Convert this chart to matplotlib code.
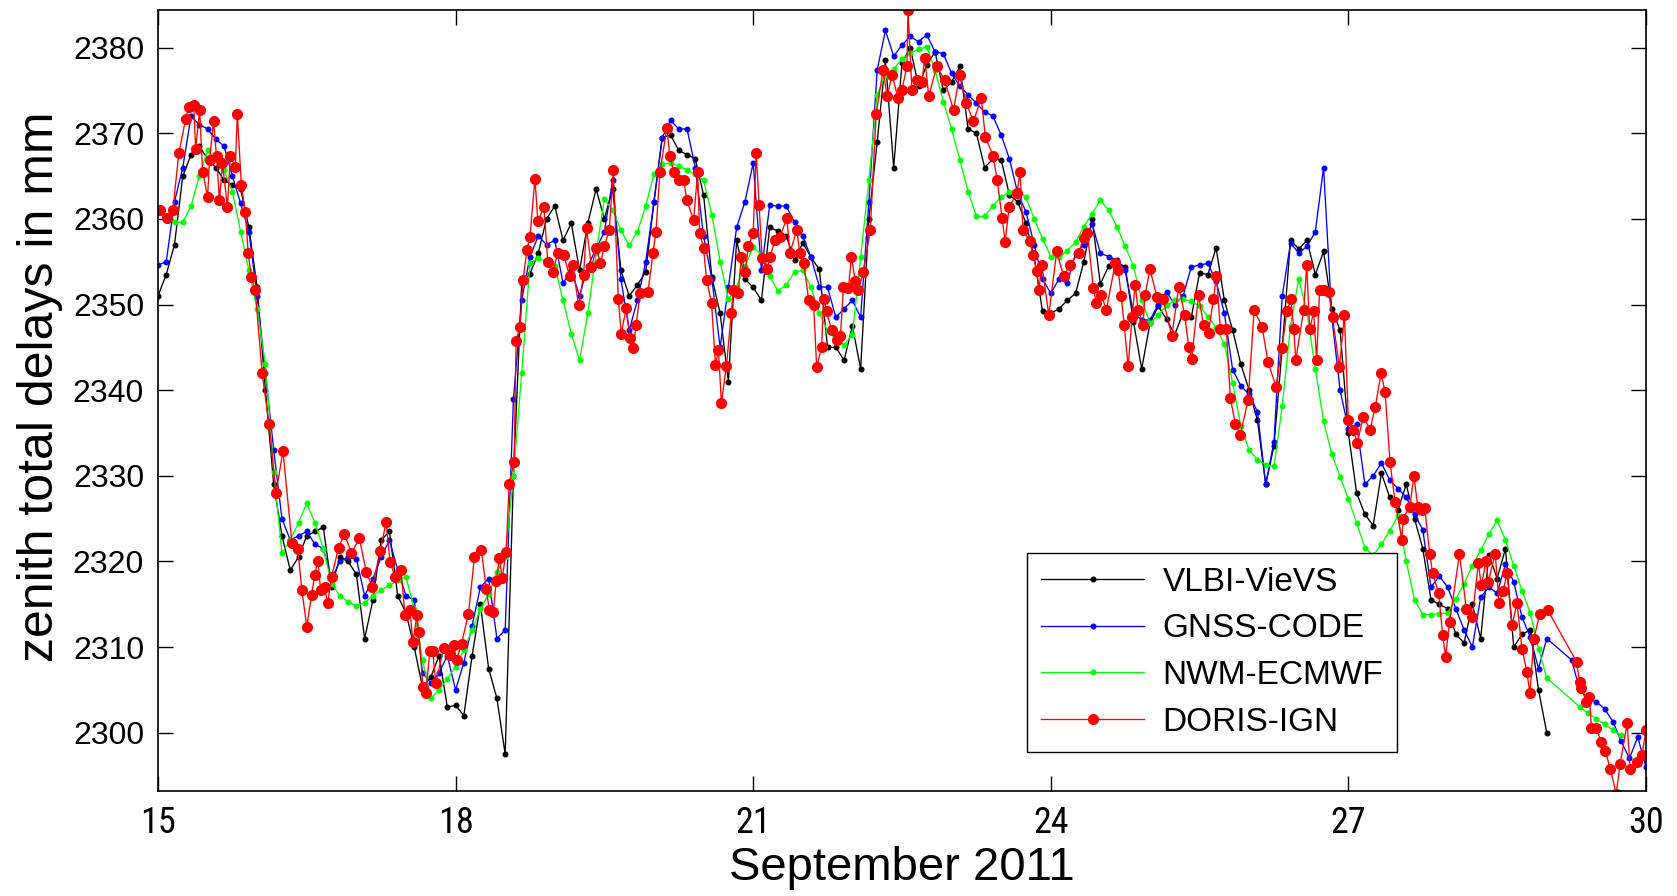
import numpy as np
import matplotlib
matplotlib.use('Agg')
import matplotlib.pyplot as plt
from matplotlib import font_manager

# 2-hourly epochs, 15.0 .. 30.0 September 2011
t2h = 15 + np.arange(181) / 12.0

nan = np.nan

# VLBI-VieVS zenith total delays [mm], one row per day
vlbi = [
    2351, 2353.5, 2357, 2365, 2367.5, 2368.5, 2367, 2366, 2364.5, 2364, 2363.5, 2359,
    2352, 2340, 2329, 2323, 2319, 2320.5, 2323, 2323.5, 2324, 2317, 2320.5, 2320,
    2318.5, 2311, 2315.5, 2322.5, 2323.5, 2316, 2314, 2310, 2305.3, 2306.5, 2309, 2303,
    2303.2, 2302, 2309, 2315, 2307.5, 2304, 2297.5, 2330, 2352.5, 2353.6, 2356, 2360,
    2361.5, 2357.5, 2359.5, 2354, 2359.5, 2363.5, 2360, 2363.5, 2354, 2351, 2352.3, 2353.8,
    2362, 2369.5, 2369.8, 2368, 2367.5, 2367, 2362.8, 2353.2, 2349, 2341, 2357.5, 2353,
    2352, 2350.5, 2359, 2358.6, 2358, 2355.2, 2357.2, 2355.5, 2354.1, 2345, 2345, 2343.5,
    2347.5, 2342.5, 2360, 2369, 2378.5, 2366, 2378.2, 2380, 2375.5, 2378, 2379.5, 2375,
    2376, 2377.8, 2370.5, 2370, 2366, 2367, 2366.9, 2362.8, 2362, 2359.5, 2355.5, 2349.2,
    2349, 2349.5, 2350.5, 2351.3, 2355, 2360, 2352.4, 2354.5, 2355, 2354.4, 2348, 2342.5,
    2347.8, 2349.8, 2348.3, 2346.5, 2349, 2348.5, 2353.7, 2353.5, 2356.6, 2350.5, 2347, 2343,
    2340, 2336.5, 2329, 2333.5, 2345, 2357.5, 2356.5, 2357.5, 2353.5, 2356.2, 2349.5, 2347,
    2335, 2328, 2325.5, 2324.2, 2330.3, 2327.5, 2326, 2329, 2325, 2321.5, 2315.5, 2315,
    2314.5, 2311.5, 2310.5, 2315, 2311, 2320.8, 2318, 2321.5, 2310, 2311.5, 2312, 2305,
    2300, nan, nan, nan, nan, nan, nan, nan, nan, nan, nan, nan,
    nan,
]

# GNSS-CODE
gnss = [
    2354.6, 2355, 2362, 2366, 2372, 2371, 2370.5, 2369.3, 2368.5, 2365, 2361.8, 2358.5,
    2351, 2342, 2333, 2325, 2322.5, 2323, 2323.5, 2322, 2321.5, 2318, 2320, 2320.5,
    2320.3, 2316, 2318, 2320.5, 2322.5, 2319, 2316, 2315.5, 2307, 2305.8, 2307, 2309,
    2305, 2308.2, 2312.5, 2317, 2318, 2311, 2312, 2339, 2350.5, 2355.6, 2358, 2357,
    2357.5, 2352.5, 2354, 2351, 2354.5, 2356.5, 2358.5, 2364.5, 2353, 2347, 2350.5, 2355,
    2362, 2369.5, 2371.5, 2370.5, 2370.5, 2366, 2358, 2353, 2345, 2352, 2359, 2362,
    2366.5, 2354, 2361.6, 2361.5, 2361.5, 2359.6, 2358, 2355.5, 2352.1, 2352, 2348.5, 2349.5,
    2350.5, 2348.5, 2362, 2377.4, 2382, 2379, 2380.3, 2381.3, 2380.7, 2381.5, 2379.5, 2379.3,
    2377, 2375.5, 2374.5, 2373.5, 2372.5, 2372, 2369.8, 2367, 2363, 2360.8, 2357, 2353,
    2351.3, 2353, 2352.5, 2356, 2357, 2359.4, 2356, 2355.6, 2355.2, 2354, 2349, 2348.2,
    2348.2, 2350, 2351.5, 2350, 2351, 2354.4, 2354.6, 2354.8, 2352.7, 2349, 2342.4, 2340.5,
    2339.5, 2337.5, 2329, 2334, 2351, 2357.2, 2356, 2356.8, 2358.5, 2366, 2348.5, 2340,
    2335.5, 2336, 2329, 2330, 2331.5, 2329.5, 2328.5, 2327.5, 2325.5, 2323.7, 2317, 2318.3,
    2317, 2314.5, 2312, 2310, 2315.8, 2317, 2316.3, 2319.7, 2317.6, 2313.5, 2311.2, 2307.5,
    2311, nan, nan, 2308.5, 2305, 2304, 2303.6, 2302.8, 2301.3, 2299, 2297, 2299.5,
    2296,
]

# NWM-ECMWF
nwm = [
    2360.7, 2360, 2359.6, 2359.6, 2361.5, 2365, 2368, 2367, 2365.7, 2363.2, 2358.5, 2354,
    2349.5, 2343, 2330.5, 2321, 2322.5, 2324.5, 2326.8, 2324.5, 2321.5, 2317.4, 2316, 2315.3,
    2314.8, 2315.2, 2316, 2316.7, 2317.2, 2317.8, 2318.2, 2314.5, 2308.5, 2304, 2305, 2306.3,
    2307.7, 2309.7, 2312, 2314.4, 2316.2, 2318.8, 2320.5, 2330, 2342, 2354.8, 2355.4, 2355,
    2354.5, 2350.5, 2346.6, 2343.5, 2349, 2356, 2362.3, 2361, 2358.7, 2356.9, 2358.5, 2361.5,
    2365.3, 2366.4, 2366.5, 2366.2, 2365.7, 2365.2, 2364.5, 2360.5, 2355, 2350.6, 2352.1, 2354.5,
    2356.7, 2355.8, 2353.3, 2351.6, 2352.3, 2353.8, 2354, 2352, 2349, 2346.9, 2346, 2345.3,
    2346.5, 2355.5, 2364.5, 2374.5, 2376.8, 2377.5, 2378.7, 2379.4, 2379.8, 2380.1, 2377.4, 2373.7,
    2370.5, 2366.9, 2363.2, 2360.3, 2360.3, 2361.5, 2362.6, 2363.1, 2363.4, 2362.5, 2360, 2357.7,
    2355.6, 2355.5, 2356.3, 2357.3, 2359.1, 2360.6, 2362.2, 2361, 2359.1, 2356.8, 2354.5, 2350.5,
    2347.8, 2348.8, 2349.9, 2350.5, 2350.6, 2350.4, 2349.8, 2348.6, 2347.3, 2345.4, 2340.8, 2335.8,
    2333, 2331.9, 2331.3, 2331.1, 2338.1, 2347.5, 2353, 2349, 2342.5, 2336.4, 2332.5, 2329.9,
    2327.3, 2324.5, 2321.6, 2320.7, 2322, 2323.6, 2325.3, 2320, 2315.5, 2313.8, 2313.8, 2313.9,
    2314, 2315.6, 2317.4, 2319.5, 2321.3, 2323.2, 2324.8, 2322.5, 2319.5, 2316.6, 2314, 2309.8,
    2306.4, nan, nan, nan, 2303, 2302.3, 2301.6, 2301, 2300.3, 2299.7, nan, nan,
    nan,
]

# DORIS-IGN, irregular epochs
doris_t = [
    15.02, 15.09, 15.15, 15.21, 15.28, 15.31, 15.36, 15.38, 15.42, 15.45, 15.50, 15.52, 15.56,
    15.59, 15.62, 15.65, 15.70, 15.73, 15.78, 15.80, 15.84, 15.88, 15.91, 15.94, 15.98,
    16.05, 16.12, 16.19, 16.26, 16.35, 16.41, 16.45, 16.50, 16.55, 16.58, 16.61, 16.64,
    16.68, 16.71, 16.75, 16.82, 16.88, 16.95, 17.03, 17.10, 17.16, 17.24, 17.30, 17.34,
    17.39, 17.45, 17.49, 17.54, 17.57, 17.61, 17.63, 17.67, 17.70, 17.74, 17.77, 17.80,
    17.88, 17.94, 17.98, 18.01, 18.06, 18.13, 18.19, 18.26, 18.31, 18.34, 18.38, 18.41,
    18.44, 18.47, 18.51, 18.54, 18.59, 18.61, 18.65, 18.68, 18.72, 18.75, 18.80, 18.83,
    18.89, 18.93, 18.98, 19.03, 19.09, 19.15, 19.18, 19.24, 19.29, 19.32, 19.37, 19.42,
    19.46, 19.50, 19.55, 19.59, 19.64, 19.67, 19.72, 19.76, 19.79, 19.82, 19.86, 19.94,
    19.99, 20.02, 20.06, 20.13, 20.16, 20.20, 20.25, 20.30, 20.33, 20.40, 20.44, 20.46,
    20.50, 20.53, 20.58, 20.62, 20.65, 20.68, 20.73, 20.78, 20.80, 20.85, 20.88, 20.92,
    20.95, 21.00, 21.03, 21.06, 21.09, 21.14, 21.17, 21.22, 21.27, 21.34, 21.37, 21.44,
    21.47, 21.51, 21.56, 21.61, 21.64, 21.69, 21.71, 21.74, 21.79, 21.84, 21.88, 21.91,
    21.96, 21.99, 22.03, 22.06, 22.11, 22.18, 22.24, 22.31, 22.35, 22.40, 22.46, 22.50,
    22.55, 22.56, 22.60, 22.65, 22.70, 22.73, 22.77, 22.85, 22.93, 23.02, 23.08, 23.15,
    23.22, 23.30, 23.34, 23.42, 23.46, 23.51, 23.54, 23.58, 23.66, 23.69, 23.72, 23.79,
    23.82, 23.86, 23.88, 23.91, 23.98, 24.06, 24.13, 24.19, 24.28, 24.33, 24.37, 24.43,
    24.46, 24.51, 24.56, 24.65, 24.68, 24.71, 24.74, 24.78, 24.82, 24.85, 24.88, 24.93,
    24.95, 25.00, 25.07, 25.13, 25.22, 25.29, 25.35, 25.39, 25.42, 25.49, 25.54, 25.59,
    25.64, 25.67, 25.71, 25.77, 25.81, 25.86, 25.91, 25.99, 26.05, 26.13, 26.19, 26.27,
    26.33, 26.38, 26.42, 26.45, 26.47, 26.55, 26.58, 26.61, 26.65, 26.68, 26.71, 26.75,
    26.80, 26.84, 26.91, 26.96, 27.00, 27.05, 27.09, 27.15, 27.22, 27.27, 27.33, 27.37,
    27.42, 27.47, 27.54, 27.55, 27.62, 27.66, 27.70, 27.74, 27.77, 27.82, 27.85, 27.91,
    27.95, 27.98, 28.02, 28.12, 28.19, 28.25, 28.31, 28.34, 28.39, 28.41, 28.48, 28.52,
    28.56, 28.60, 28.65, 28.70, 28.75, 28.80, 28.83, 28.87, 28.93, 29.01, 29.30, 29.33,
    29.35, 29.40, 29.43, 29.45, 29.50, 29.55, 29.59, 29.64, 29.70, 29.74, 29.81, 29.84,
    29.91, 29.96, 30.00,
]
doris = [
    2361, 2360.1, 2361, 2367.7, 2371.7, 2373.1, 2373.3, 2368.2, 2372.7, 2365.5, 2362.6, 2366.9, 2371.4,
    2367.3, 2362.2, 2366.5, 2361.4, 2367.3, 2366.1, 2372.3, 2364, 2360.8, 2356, 2353.2, 2351.7,
    2342, 2336, 2328, 2332.9, 2322.2, 2321.4, 2316.7, 2312.4, 2316.1, 2318.4, 2320.1, 2316.7,
    2317, 2315.1, 2318.2, 2321.6, 2323.2, 2321, 2322.7, 2318.8, 2317, 2321.2, 2324.6, 2319.9,
    2318.2, 2319, 2313.7, 2314.3, 2310.6, 2313.7, 2311.8, 2305.4, 2304.6, 2309.5, 2309.5, 2305.8,
    2309.9, 2309.1, 2310.2, 2308.5, 2310.4, 2313.9, 2320.5, 2321.3, 2316.8, 2314.3, 2314.1, 2317.7,
    2320.4, 2318.1, 2321.1, 2329.1, 2331.6, 2345.8, 2347.4, 2352.9, 2356.4, 2357.9, 2364.7, 2359.7,
    2361.4, 2355, 2353.8, 2356, 2355.8, 2353.3, 2354.6, 2349.9, 2353.4, 2358.9, 2354.4, 2356.6,
    2354.8, 2356.8, 2358.7, 2365.7, 2350.7, 2346.6, 2349.6, 2346.1, 2344.9, 2347.6, 2351.3, 2351.5,
    2356, 2358.5, 2365.5, 2370.6, 2367.3, 2365.5, 2364.6, 2364.6, 2362.2, 2359.9, 2365.5, 2358.3,
    2356.6, 2352.9, 2350.2, 2342.9, 2344.7, 2338.5, 2342.8, 2349, 2351.7, 2351.3, 2355.6, 2353.8,
    2356.8, 2358.3, 2367.7, 2361.6, 2355.4, 2354.2, 2355.6, 2357.5, 2357.9, 2360.1, 2356, 2358.7,
    2356, 2354.8, 2350.5, 2349.9, 2342.7, 2345, 2350.7, 2349.2, 2347, 2345.9, 2346.3, 2352.1,
    2351.9, 2355.6, 2352.7, 2351.7, 2353.8, 2358.7, 2372.3, 2377.4, 2374.3, 2376.8, 2374.1, 2375.1,
    2377.8, 2384.4, 2375.1, 2376.2, 2376, 2378.8, 2374.3, 2377.8, 2376.2, 2372.7, 2376.8, 2373.5,
    2371.4, 2374.1, 2369.6, 2367.3, 2364.5, 2360.1, 2357.3, 2361.4, 2363, 2365.5, 2358.7, 2357.4,
    2355.8, 2353.9, 2351.7, 2354.6, 2348.8, 2356.2, 2353.3, 2354.6, 2356, 2357.8, 2358.3, 2351.9,
    2350.2, 2351.1, 2349.4, 2354.8, 2354, 2351, 2347.6, 2342.8, 2348.6, 2352.3, 2349.4, 2347.6,
    2351.1, 2354.1, 2350.9, 2350.7, 2346.3, 2352.1, 2348.8, 2345.1, 2343.7, 2351.1, 2347.6, 2346.7,
    2350.7, 2353.3, 2347.2, 2347.1, 2339.1, 2336.1, 2334.8, 2338.9, 2349.4, 2347.4, 2343.3, 2340.4,
    2344.9, 2349.2, 2350.6, 2347.1, 2343.5, 2349.4, 2354.6, 2347.1, 2349.2, 2343.5, 2351.7, 2351.7,
    2351.5, 2348.5, 2342.7, 2348.8, 2336.5, 2335.3, 2333.8, 2336.9, 2335.4, 2338, 2342, 2339.8,
    2331.6, 2327, 2322.5, 2325, 2326.4, 2330, 2326.4, 2326, 2326.2, 2320.9, 2318.6, 2316.3,
    2311.4, 2308.9, 2312.9, 2320.9, 2314.4, 2313.5, 2319.8, 2317.2, 2320.1, 2317.6, 2320.9, 2315.1,
    2316.6, 2318.6, 2312.6, 2315.1, 2309.8, 2307.1, 2304.6, 2311, 2313.9, 2314.3, 2308.3, 2305.9,
    2305.2, 2303.6, 2304.2, 2300.5, 2300.5, 2298.9, 2297.9, 2295.8, 2292.9, 2296.4, 2301.1, 2295.8,
    2296.6, 2297.4, 2300.3,
]

series_names = ['VLBI-VieVS', 'GNSS-CODE', 'NWM-ECMWF', 'DORIS-IGN']
xticks = [15, 18, 21, 24, 27, 30]
yticks = list(range(2300, 2381, 10))

# a narrow sans for the date ticks, if one is installed
fonts = font_manager.fontManager.ttflist
names = {f.name for f in fonts}
narrow_kw = {'family': 'Liberation Sans'}
for cand in ['Liberation Sans Narrow', 'Roboto Condensed', 'Arial Narrow']:
    if cand in names:
        narrow_kw = {'family': cand}
        break
else:
    if any(f.name == 'DejaVu Sans' and f.stretch == 'condensed' for f in fonts):
        narrow_kw = {'family': 'DejaVu Sans', 'stretch': 'condensed'}

plt.rcParams['font.family'] = ['Liberation Sans', 'DejaVu Sans']

fig = plt.figure(figsize=(16.77, 8.96), dpi=100)
ax = fig.add_axes([0.0942, 0.1172, 0.8873, 0.8717])


def plot_series(t, v, color, ms, label):
    t = np.asarray(t, float)
    v = np.asarray(v, float)
    ok = ~np.isnan(v)
    ax.plot(t[ok], v[ok], '-', color=color, lw=0.95, marker='o', ms=ms,
            mec=color, mfc=color, label=label)


plot_series(t2h, vlbi, 'k', 3.3, series_names[0])
plot_series(t2h, gnss, (0, 0, 1), 3.3, series_names[1])
plot_series(t2h, nwm, (0, 1, 0), 3.3, series_names[2])
plot_series(doris_t, doris, (1, 0, 0), 7.0, series_names[3])

ax.set_xlim(15, 30)
ax.set_ylim(2293.2, 2384.4)
ax.set_xticks(xticks)
ax.set_yticks(yticks)
ax.tick_params(direction='in', length=11, width=1.0, top=True, right=True,
               labelsize=23, pad=10)
for lab in ax.get_xticklabels():
    lab.set(**narrow_kw)
    lab.set_fontsize(26)
for s in ax.spines.values():
    s.set_linewidth(1.2)

ax.set_xlabel('September 2011', fontsize=34, labelpad=4)
ax.set_ylabel('zenith total delays in mm', fontsize=36)
ax.yaxis.set_label_coords(-0.064, 0.517)

leg = ax.legend(loc='upper left', bbox_to_anchor=(0.584, 0.305), fontsize=24,
                frameon=True, fancybox=False, edgecolor='k', framealpha=1,
                handlelength=3.1, handletextpad=0.55, labelspacing=0.47,
                borderpad=0.42, borderaxespad=0)
leg.get_frame().set_linewidth(1.0)

fig.savefig('out.png', dpi=100)
